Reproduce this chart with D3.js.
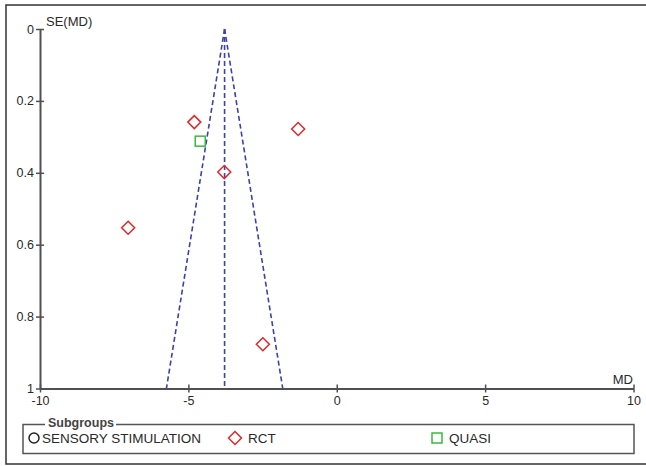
<!DOCTYPE html>
<html>
<head>
<meta charset="utf-8">
<script src="https://cdn.jsdelivr.net/npm/d3@7"></script>
<style>
  html, body { margin: 0; padding: 0; background: #fff; }
  svg { display: block; font-family: "Liberation Sans", Arial, sans-serif; }
</style>
</head>
<body>
<svg id="chart" width="646" height="466"></svg>
<script>
// Funnel plot: study mean differences against their standard errors
const subgroups = ["SENSORY STIMULATION", "RCT", "QUASI"];
const studyMD = [-4.80, -1.30, -4.60, -3.79, -7.03, -2.49];
const studySE = [0.259, 0.278, 0.312, 0.398, 0.553, 0.877];
const studyGroup = ["RCT", "RCT", "QUASI", "RCT", "RCT", "RCT"];
const pooledMD = -3.78;
const xTicks = [-10, -5, 0, 5, 10];
const yTicks = [0, 0.2, 0.4, 0.6, 0.8, 1];

const svg = d3.select("#chart");
const axisColor = "#505050";
const textColor = "#2a2a2a";
const funnelColor = "#3d40b0";
const groupColor = { "SENSORY STIMULATION": "#222", "RCT": "#e0282b", "QUASI": "#3cb83c" };

// outer frame
svg.append("path")
  .attr("d", "M650,5 H6 V464 H650")
  .attr("fill", "none").attr("stroke", "#333").attr("stroke-width", 1.5);

const x = d3.scaleLinear().domain([-10, 10]).range([40, 633.5]);
const y = d3.scaleLinear().domain([0, 1]).range([29, 388.5]);

// funnel limits (pooled ± 1.96·SE) and the pooled line
const seMax = d3.max(yTicks);
const funnel = [
  [[pooledMD, 0], [pooledMD - 1.96 * seMax, seMax]],
  [[pooledMD, 0], [pooledMD + 1.96 * seMax, seMax]],
  [[pooledMD, 0], [pooledMD, seMax]]
];
const line = d3.line().x(d => x(d[0])).y(d => y(d[1]));
svg.append("g").selectAll("path").data(funnel).join("path")
  .attr("d", line)
  .attr("fill", "none")
  .attr("stroke", funnelColor)
  .attr("stroke-width", 1.6)
  .attr("stroke-dasharray", "5,3");

// axes (plain hyphen for negative labels)
const fmt = d => String(d);
const xAxis = svg.append("g")
  .attr("transform", `translate(0,${y(1)})`)
  .call(d3.axisBottom(x).tickValues(xTicks).tickFormat(fmt).tickSizeOuter(0));
const yAxis = svg.append("g")
  .attr("transform", `translate(${x(-10)},0)`)
  .call(d3.axisLeft(y).tickValues(yTicks).tickFormat(fmt).tickSizeOuter(0));

[xAxis, yAxis].forEach(g => {
  g.select(".domain").attr("stroke", axisColor).attr("stroke-width", 2);
  g.selectAll(".tick line").attr("stroke", axisColor).attr("stroke-width", 1.5);
  g.selectAll(".tick text").attr("fill", textColor)
    .attr("font-size", 12.5).attr("font-family", "Liberation Sans, Arial, sans-serif");
});
xAxis.selectAll(".tick line").attr("y1", -4).attr("y2", 4);
xAxis.selectAll(".tick text").attr("y", 7.5);
yAxis.selectAll(".tick line").attr("x1", -4).attr("x2", 4);
yAxis.selectAll(".tick text").attr("x", -6);

// axis titles
svg.append("text").attr("x", 46).attr("y", 25.5)
  .attr("font-size", 13).attr("fill", textColor).text("SE(MD)");
svg.append("text").attr("x", 633).attr("y", 384).attr("text-anchor", "end")
  .attr("font-size", 13).attr("fill", textColor).text("MD");

// marker shapes per subgroup
function marker(sel, group) {
  if (group === "RCT") {
    sel.append("path").attr("d", "M0,-6.5 L6.5,0 L0,6.5 L-6.5,0 Z");
  } else if (group === "QUASI") {
    sel.append("rect").attr("x", -5).attr("y", -5).attr("width", 10).attr("height", 10);
  } else {
    sel.append("circle").attr("r", 5);
  }
  sel.selectAll("*")
    .attr("fill", "none")
    .attr("stroke", groupColor[group])
    .attr("stroke-width", 1.5);
}

// studies
const studies = studyMD.map((md, i) => ({ md, se: studySE[i], group: studyGroup[i] }));
svg.append("g").selectAll("g").data(studies).join("g")
  .attr("transform", d => `translate(${x(d.md)},${y(d.se)})`)
  .each(function(d) { marker(d3.select(this), d.group); });

// legend
const lg = svg.append("g");
const boxL = 23, boxR = 634, boxT = 424.5, boxB = 453.5;
lg.append("path")
  .attr("d", `M45,${boxT} H${boxL} V${boxB} H${boxR} V${boxT} H116`)
  .attr("fill", "none").attr("stroke", "#555").attr("stroke-width", 1.5);
lg.append("text").attr("x", 48).attr("y", 426.5)
  .attr("font-size", 12.5).attr("font-weight", "bold").attr("fill", "#444").text("Subgroups");

const itemX = [34, 235, 437];
const textOffset = [8, 13, 12];
subgroups.forEach((g, i) => {
  const it = lg.append("g").attr("transform", `translate(${itemX[i]},438)`);
  marker(it, g);
  it.append("text").attr("x", textOffset[i]).attr("y", 4.6)
    .attr("font-size", 13.5).attr("fill", textColor).text(g);
});
</script>
</body>
</html>
